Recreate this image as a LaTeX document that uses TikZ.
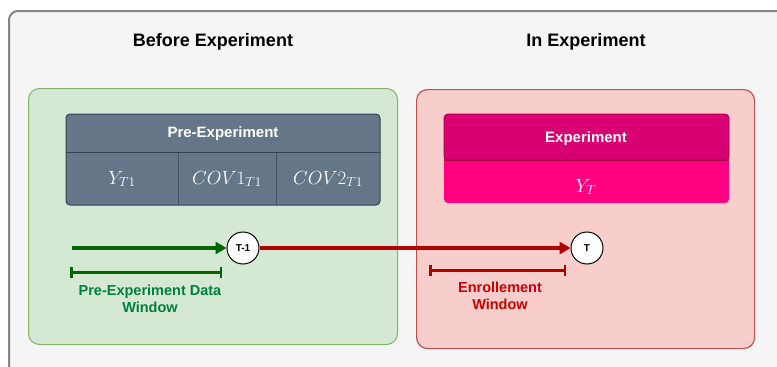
\documentclass[tikz,border=0pt]{standalone}
\usepackage{fix-cm}
\usepackage{fontspec}
\setsansfont{Liberation Sans}
\usetikzlibrary{arrows.meta}
\definecolor{outerbg}{HTML}{F5F5F5}
\definecolor{outerln}{HTML}{666666}
\definecolor{gfill}{HTML}{D5E8D4}
\definecolor{gline}{HTML}{82B366}
\definecolor{rfill}{HTML}{F8CECC}
\definecolor{rline}{HTML}{B85450}
\definecolor{tabfill}{HTML}{647687}
\definecolor{tabline}{HTML}{314354}
\definecolor{exhead}{HTML}{D80073}
\definecolor{exline}{HTML}{A50040}
\definecolor{exbody}{HTML}{FF0080}
\definecolor{darkgreen}{HTML}{006600}
\definecolor{gtext}{HTML}{00803C}
\definecolor{darkred}{HTML}{B20000}
\definecolor{rtext}{HTML}{CC0000}
\tikzset{
  title/.style={font=\sffamily\bfseries\fontsize{18}{20}\selectfont, text=black},
  hdr/.style={font=\sffamily\bfseries\fontsize{15}{17}\selectfont, text=white},
  mathlbl/.style={font=\fontsize{19}{21}\selectfont, text=white},
  tnode/.style={circle, draw=black, fill=white, line width=1pt, minimum size=32pt, inner sep=0pt, font=\sffamily\bfseries\fontsize{10}{11}\selectfont},
  lbl/.style={font=\sffamily\bfseries\fontsize{14.5}{16.5}\selectfont, align=center},
  bar/.style={line width=3pt, {Bar[width=11pt,line width=2.5pt]}-{Bar[width=11pt,line width=2.5pt]}},
}
\begin{document}
\begin{tikzpicture}[x=1pt,y=-1pt]
\useasboundingbox (0,0) rectangle (777,367);
% outer container
\node[draw=outerln!80, fill=outerbg, line width=2pt, rounded corners=9pt, minimum width=790pt, minimum height=380pt, anchor=north west, inner sep=0pt] (outer) at (8,10) {};
% titles
\node[title] (t1) at (213,42) {Before Experiment};
\node[title] (t2) at (586,42) {In Experiment};
% phase boxes
\node[draw=gline, fill=gfill, line width=1pt, rounded corners=11pt, minimum width=369pt, minimum height=256pt, anchor=north west, inner sep=0pt] (gbox) at (28,88) {};
\node[draw=rline, fill=rfill, line width=1.2pt, rounded corners=11pt, minimum width=338pt, minimum height=259pt, anchor=north west, inner sep=0pt] (rbox) at (416,89) {};
% pre-experiment table
\fill[tabfill, rounded corners=4pt] (66,114) rectangle (380,205);
\draw[tabline!70!tabfill, line width=0.5pt] (178,152) -- (178,205);
\draw[tabline!70!tabfill, line width=0.5pt] (276,152) -- (276,205);
\draw[tabline, line width=0.8pt] (66,152) -- (380,152);
\draw[tabline, line width=1pt, rounded corners=4pt] (66,114) rectangle (380,205);
\node[hdr] (preh) at (223,134) {Pre-Experiment};
\node[mathlbl] (c1) at (122,179) {$Y_{T1}$};
\node[mathlbl] (c2) at (227,179) {$COV1_{T1}$};
\node[mathlbl] (c3) at (328,179) {$COV2_{T1}$};
% experiment table
\fill[exbody, rounded corners=4pt] (444,114) rectangle (729,203);
\fill[exhead, rounded corners=4pt] (444,114) rectangle (729,160);
\fill[exhead] (444,150) rectangle (729,160);
\draw[exline, line width=0.6pt] (444,160) -- (729,160);
\draw[exline, line width=0.8pt, rounded corners=4pt] (444,114) rectangle (729,160) ;
\node[hdr] (exh) at (586,139) {Experiment};
\node[mathlbl] (e1) at (586,187) {$Y_T$};
% timeline
\coordinate (gs) at (72,248);
\node[tnode] (tm1) at (243,248) {T-1};
\node[tnode] (tt) at (587,248) {T};
\draw[darkgreen, line width=4pt, -{Triangle[length=11pt,width=12pt]}] (gs) -- (tm1);
\draw[darkred, line width=4pt, -{Triangle[length=11pt,width=12pt]}] (tm1) -- (tt);
% windows
\coordinate (gb1) at (70,272);
\coordinate (gb2) at (222,272);
\draw[darkgreen, bar] (gb1) -- (gb2);
\node[lbl, text=gtext] (gl) at (150,299) {Pre-Experiment Data\\Window};
\coordinate (rb1) at (429,270);
\coordinate (rb2) at (566,270);
\draw[darkred, bar] (rb1) -- (rb2);
\node[lbl, text=rtext] (rl) at (500,296) {Enrollement\\Window};
\end{tikzpicture}
\end{document}
